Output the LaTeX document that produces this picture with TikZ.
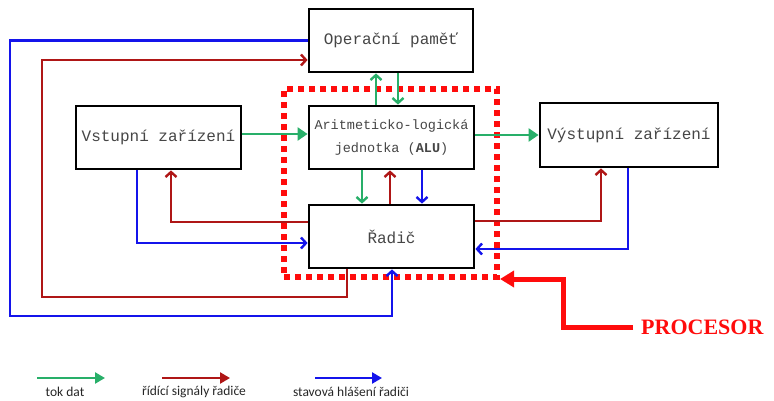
\documentclass[tikz,border=0pt]{standalone}
\usepackage{fontspec}
\setmainfont{Liberation Serif}
\setmonofont{Liberation Mono}
\newfontfamily\legendfont{Carlito}
\usetikzlibrary{arrows.meta}
\definecolor{dgreen}{RGB}{40,175,105}
\definecolor{dred}{RGB}{175,22,22}
\definecolor{dblue}{RGB}{20,20,235}
\definecolor{pred}{RGB}{255,12,12}
\definecolor{boxtext}{RGB}{70,70,70}
\tikzset{
  unit/.style={draw=black, line width=2.8pt, fill=white, inner sep=0pt,
    font=\ttfamily\fontsize{16}{19}\selectfont, text=boxtext, align=center},
  vee/.style={-{Straight Barb[length=5pt,width=11pt]}},
  tri/.style={-{Triangle[length=10pt,width=13pt]}},
  legtip/.style={-{Triangle[length=10pt,width=11pt]}},
  datline/.style={draw=dgreen, line width=2.4pt},
  ctlline/.style={draw=dred, line width=2.4pt},
  stline/.style={draw=dblue, line width=2.4pt},
  procbox/.style={draw=pred, line width=6pt, dash pattern=on 6pt off 5pt,
    minimum width=213pt, minimum height=188pt, inner sep=0pt},
  legtext/.style={font=\legendfont\fontsize{13.5}{15}\selectfont, text=black!85, inner sep=1pt},
}
\begin{document}
\begin{tikzpicture}[x=1pt,y=-1pt]
\useasboundingbox (0,0) rectangle (774,401);
% processor outline
\node[procbox] (proc) at (390.5,183) {};
% units
\node[unit, minimum width=164pt, minimum height=63pt] (mem) at (391,40.5) {Operační paměť};
\node[unit, minimum width=165pt, minimum height=63pt, font=\ttfamily\fontsize{13.5}{23}\selectfont] (alu) at (391.5,137.5) {Aritmeticko-logická\\jednotka (\textbf{ALU})};
\node[unit, minimum width=165pt, minimum height=63pt] (in) at (158.5,137.5) {Vstupní zařízení};
\node[unit, minimum width=178pt, minimum height=64pt] (out) at (629,135) {Výstupní zařízení};
\node[unit, minimum width=165pt, minimum height=63pt] (ctl) at (391.5,236.5) {Řadič};
% outer loops
\draw[stline, vee] (mem.west) -- (10,40.5) -- (10,316) -- (392,316) -- (ctl.south -| 392,0);
\draw[ctlline, vee] (ctl.south -| 347,0) -- (347,297) -- (42,297) -- (42,60) -- (mem.west |- 0,60);
% input device
\draw[stline, vee] (in.south -| 137,0) |- (ctl.west |- 0,243);
\draw[ctlline, vee] (ctl.west |- 0,222) -| (in.south -| 171,0);
\draw[datline, tri] (in.east |- 0,134) -- (alu.west |- 0,134);
% output device
\draw[datline, tri] (alu.east |- 0,135) -- (out.west |- 0,135);
\draw[ctlline, vee] (ctl.east |- 0,221) -| (out.south -| 601,0);
\draw[stline, vee] (out.south -| 628,0) |- (ctl.east |- 0,249);
% memory <-> ALU
\draw[datline, vee] (alu.north -| 376,0) -- (mem.south -| 376,0);
\draw[datline, vee] (mem.south -| 398,0) -- (alu.north -| 398,0);
% ALU <-> control
\draw[datline, vee] (alu.south -| 362,0) -- (ctl.north -| 362,0);
\draw[ctlline, vee] (ctl.north -| 390,0) -- (alu.south -| 390,0);
\draw[stline, vee] (alu.south -| 422,0) -- (ctl.north -| 422,0);
% PROCESOR label
\node[font=\bfseries\fontsize{22}{24}\selectfont, text=pred, inner sep=0pt, anchor=west] (plabel) at (641,327) {PROCESOR};
\draw[draw=pred, line width=5pt, -{Triangle[length=14pt,width=16pt]}] (plabel.west) ++(-8,0) coordinate (pstart) -- (563,327) -- (563,279) -- (proc.east |- 0,279);
% legend
\coordinate (g1) at (37,378); \coordinate (g2) at (105,378);
\coordinate (r1) at (162,378); \coordinate (r2) at (230,378);
\coordinate (b1) at (315,378); \coordinate (b2) at (382,378);
\draw[datline, legtip] (g1) -- (g2);
\draw[ctlline, legtip] (r1) -- (r2);
\draw[stline, legtip] (b1) -- (b2);
\node[legtext] (lg) at (65,392) {tok dat};
\node[legtext] (lr) at (194,392) {řídící signály řadiče};
\node[legtext] (lb) at (351,392) {stavová hlášení řadiči};
\end{tikzpicture}
\end{document}
